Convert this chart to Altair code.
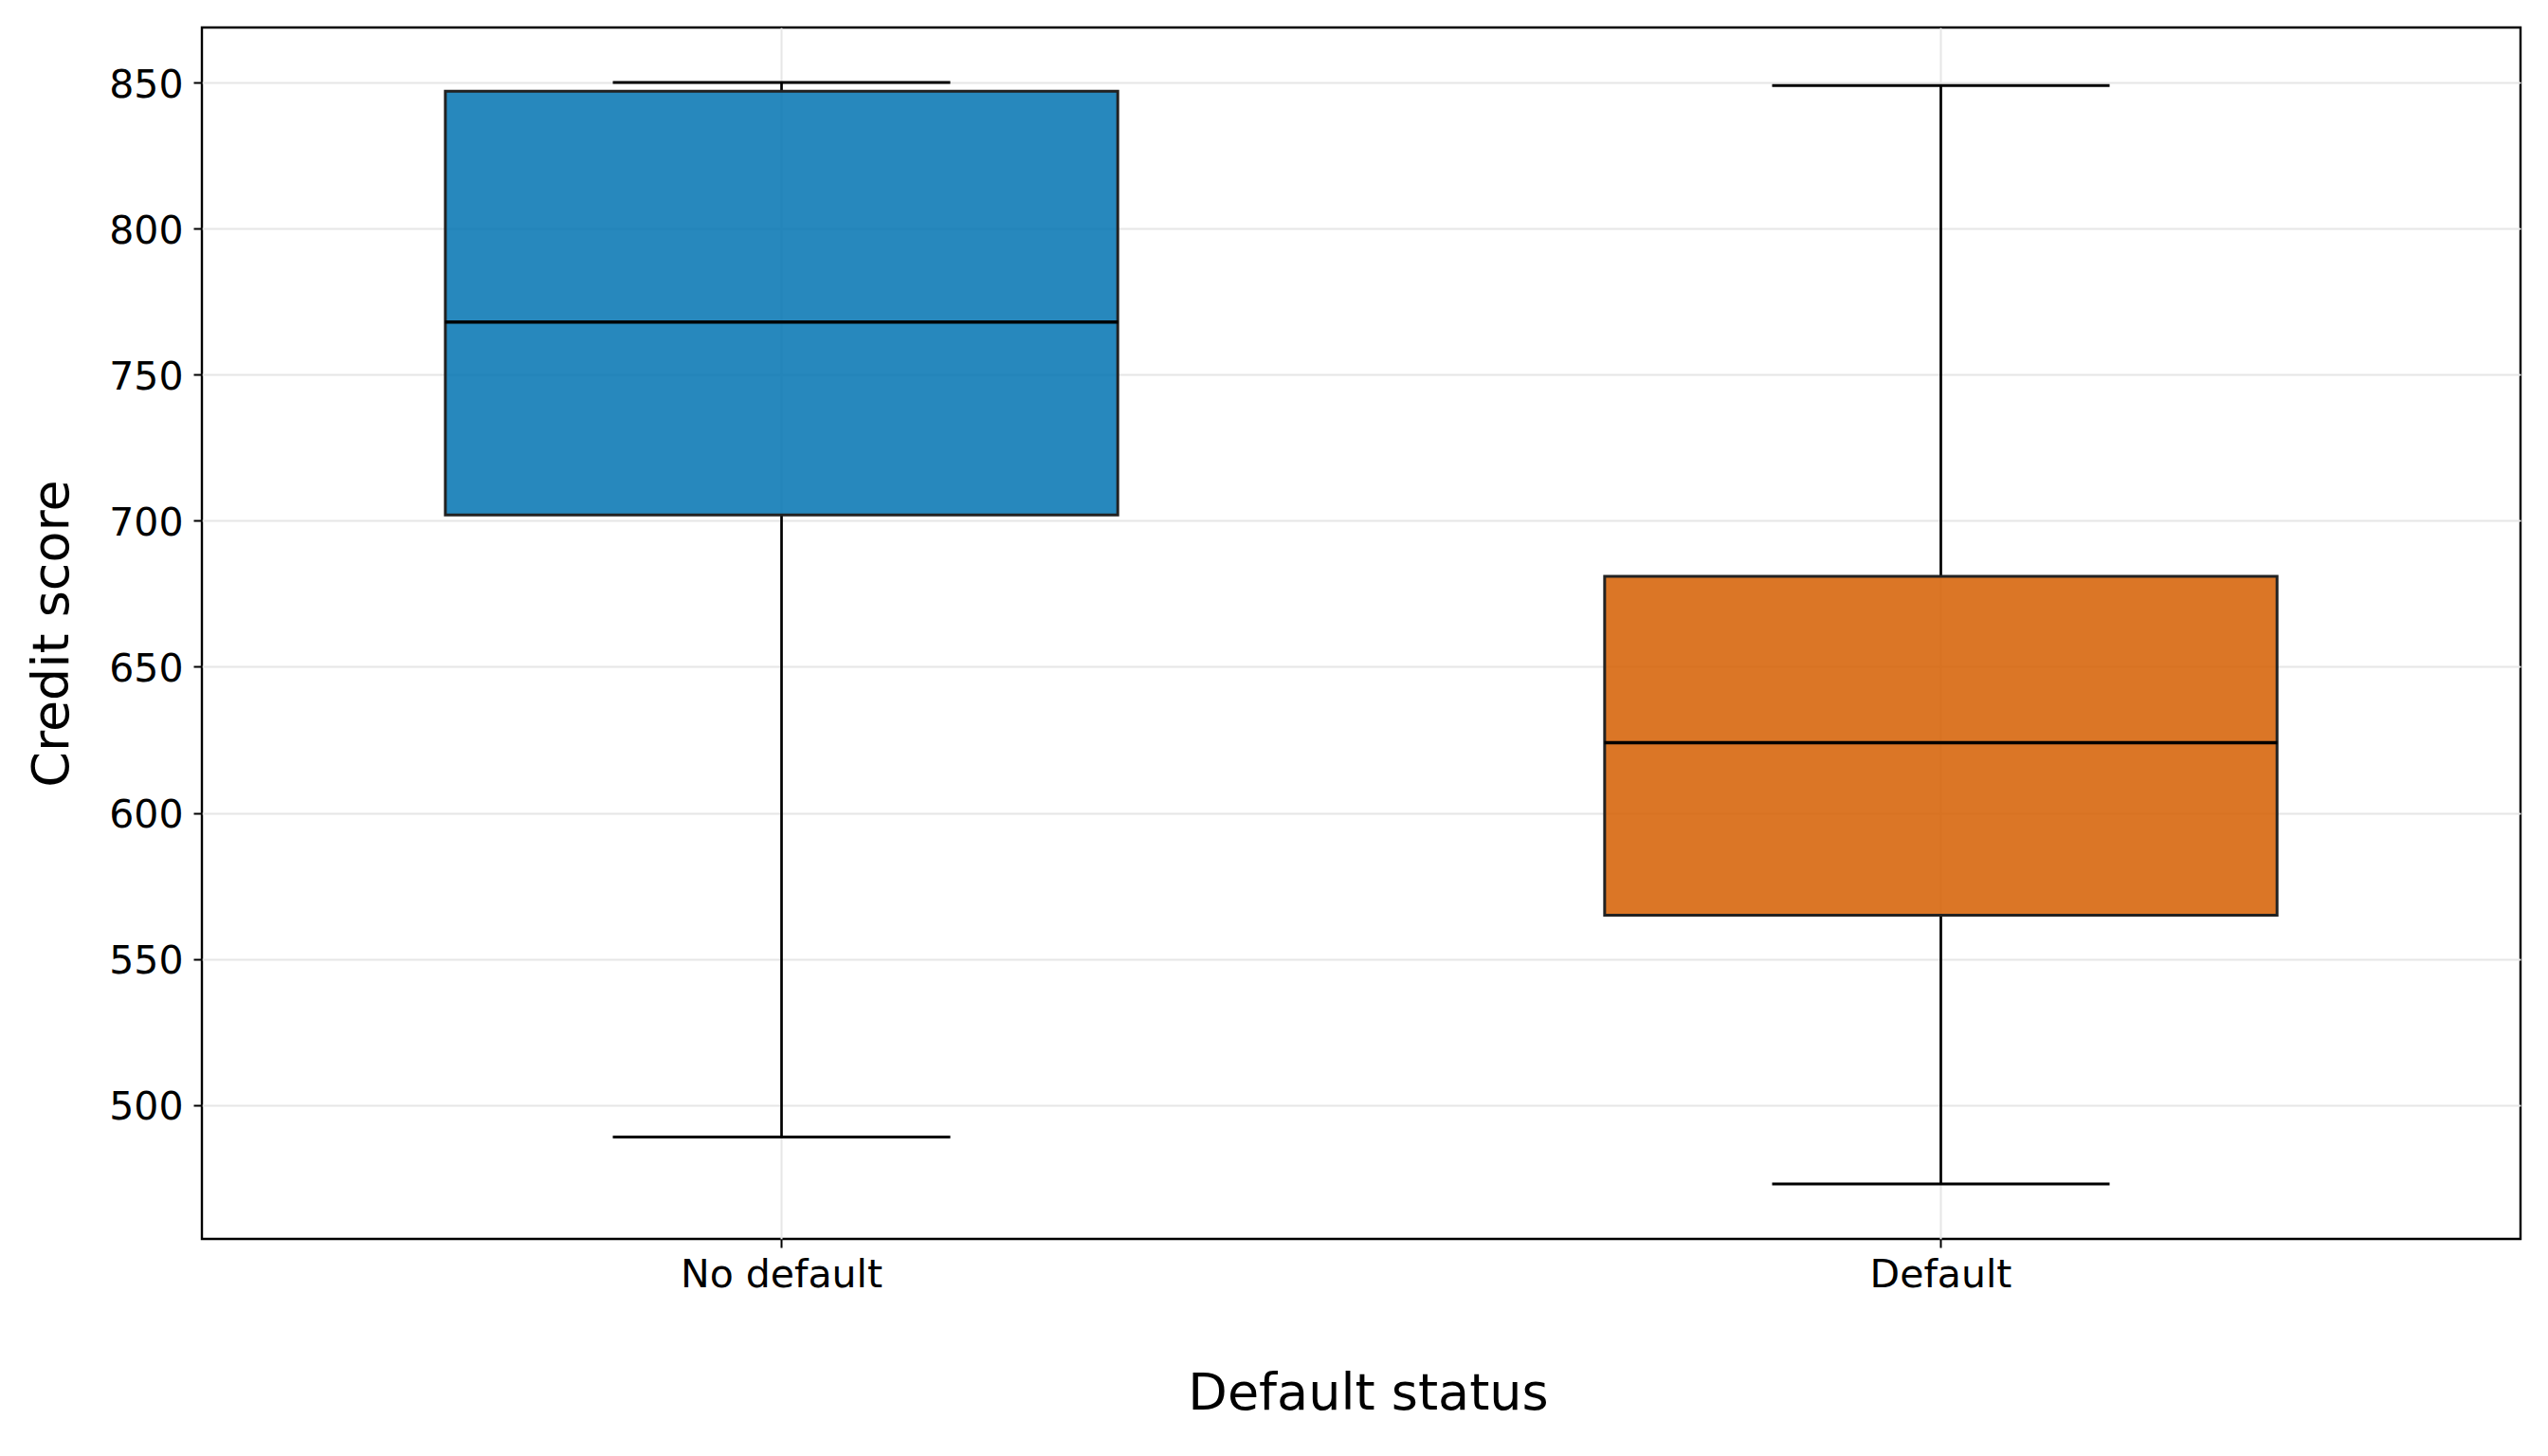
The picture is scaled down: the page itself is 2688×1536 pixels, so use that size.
import altair as alt
import pandas as pd

status = ["No default", "Default"]
whisker_low = [489, 473]
q1 = [702, 565]
median = [768, 624]
q3 = [847, 681]
whisker_high = [850, 849]
colors = ["#0173b2", "#d55e00"]
y_ticks = [500, 550, 600, 650, 700, 750, 800, 850]

df = pd.DataFrame({
    "status": status,
    "low": whisker_low,
    "q1": q1,
    "median": median,
    "q3": q3,
    "high": whisker_high,
})

FONT = "DejaVu Sans"

x_enc = alt.X(
    "status:N",
    sort=status,
    scale=alt.Scale(paddingInner=0, paddingOuter=0),
    axis=alt.Axis(
        title="Default status",
        labelAngle=0,
        labelLimit=0,
        labelFontSize=41,
        titleFontSize=54,
        labelPadding=9,
        titlePadding=78,
        titleX=1230,
        tickSize=9,
        tickWidth=2,
        tickColor="black",
        labelColor="black",
        titleColor="black",
        titleFontWeight="normal",
        domain=False,
        grid=True,
        gridColor="#e6e6e6",
        gridWidth=2,
        labelFont=FONT,
        titleFont=FONT,
    ),
)

y_scale = alt.Scale(domain=[454.15, 868.85], nice=False, zero=False)
y_axis = alt.Axis(
    title="Credit score",
    values=y_ticks,
    format="d",
    labelFontSize=41,
    titleFontSize=54,
    labelPadding=11,
    labelOffset=3,
    titlePadding=32,
    tickSize=9,
    tickWidth=2,
    tickColor="black",
    labelColor="black",
    titleColor="black",
    titleFontWeight="normal",
    domain=False,
    grid=True,
    gridColor="#e6e6e6",
    gridWidth=2,
    labelFont=FONT,
    titleFont=FONT,
)

base = alt.Chart(df)

lower_whisker = base.mark_rule(color="black", strokeWidth=2.7).encode(
    x=x_enc,
    y=alt.Y("low:Q", scale=y_scale, axis=y_axis),
    y2="q1:Q",
)
upper_whisker = base.mark_rule(color="black", strokeWidth=2.7).encode(
    x=x_enc,
    y=alt.Y("q3:Q", scale=y_scale, axis=y_axis),
    y2="high:Q",
)

box = base.mark_bar(
    width=alt.RelativeBandSize(0.58),
    stroke="#222222",
    strokeWidth=3,
    fillOpacity=0.85,
).encode(
    x=x_enc,
    y=alt.Y("q1:Q", scale=y_scale, axis=y_axis),
    y2="q3:Q",
    color=alt.Color("status:N", scale=alt.Scale(domain=status, range=colors), legend=None),
)

med = base.mark_tick(color="black", size=710, thickness=3.6, opacity=1).encode(
    x=x_enc,
    y=alt.Y("median:Q", scale=y_scale, axis=y_axis),
)

cap_low = base.mark_tick(color="black", size=356, thickness=3, opacity=1).encode(
    x=x_enc,
    y=alt.Y("low:Q", scale=y_scale, axis=y_axis),
)
cap_high = base.mark_tick(color="black", size=356, thickness=3, opacity=1).encode(
    x=x_enc,
    y=alt.Y("high:Q", scale=y_scale, axis=y_axis),
)

chart = alt.layer(lower_whisker, upper_whisker, box, med, cap_low, cap_high).properties(
    width=2446,
    height=1278,
    autosize=alt.AutoSizeParams(type="none"),
    padding={"left": 205, "top": 21, "right": 20, "bottom": 200},
    background="white",
).configure_view(
    stroke="black",
    strokeWidth=2.4,
)

chart.save("out.html", embed_options={"renderer": "svg", "actions": False})
